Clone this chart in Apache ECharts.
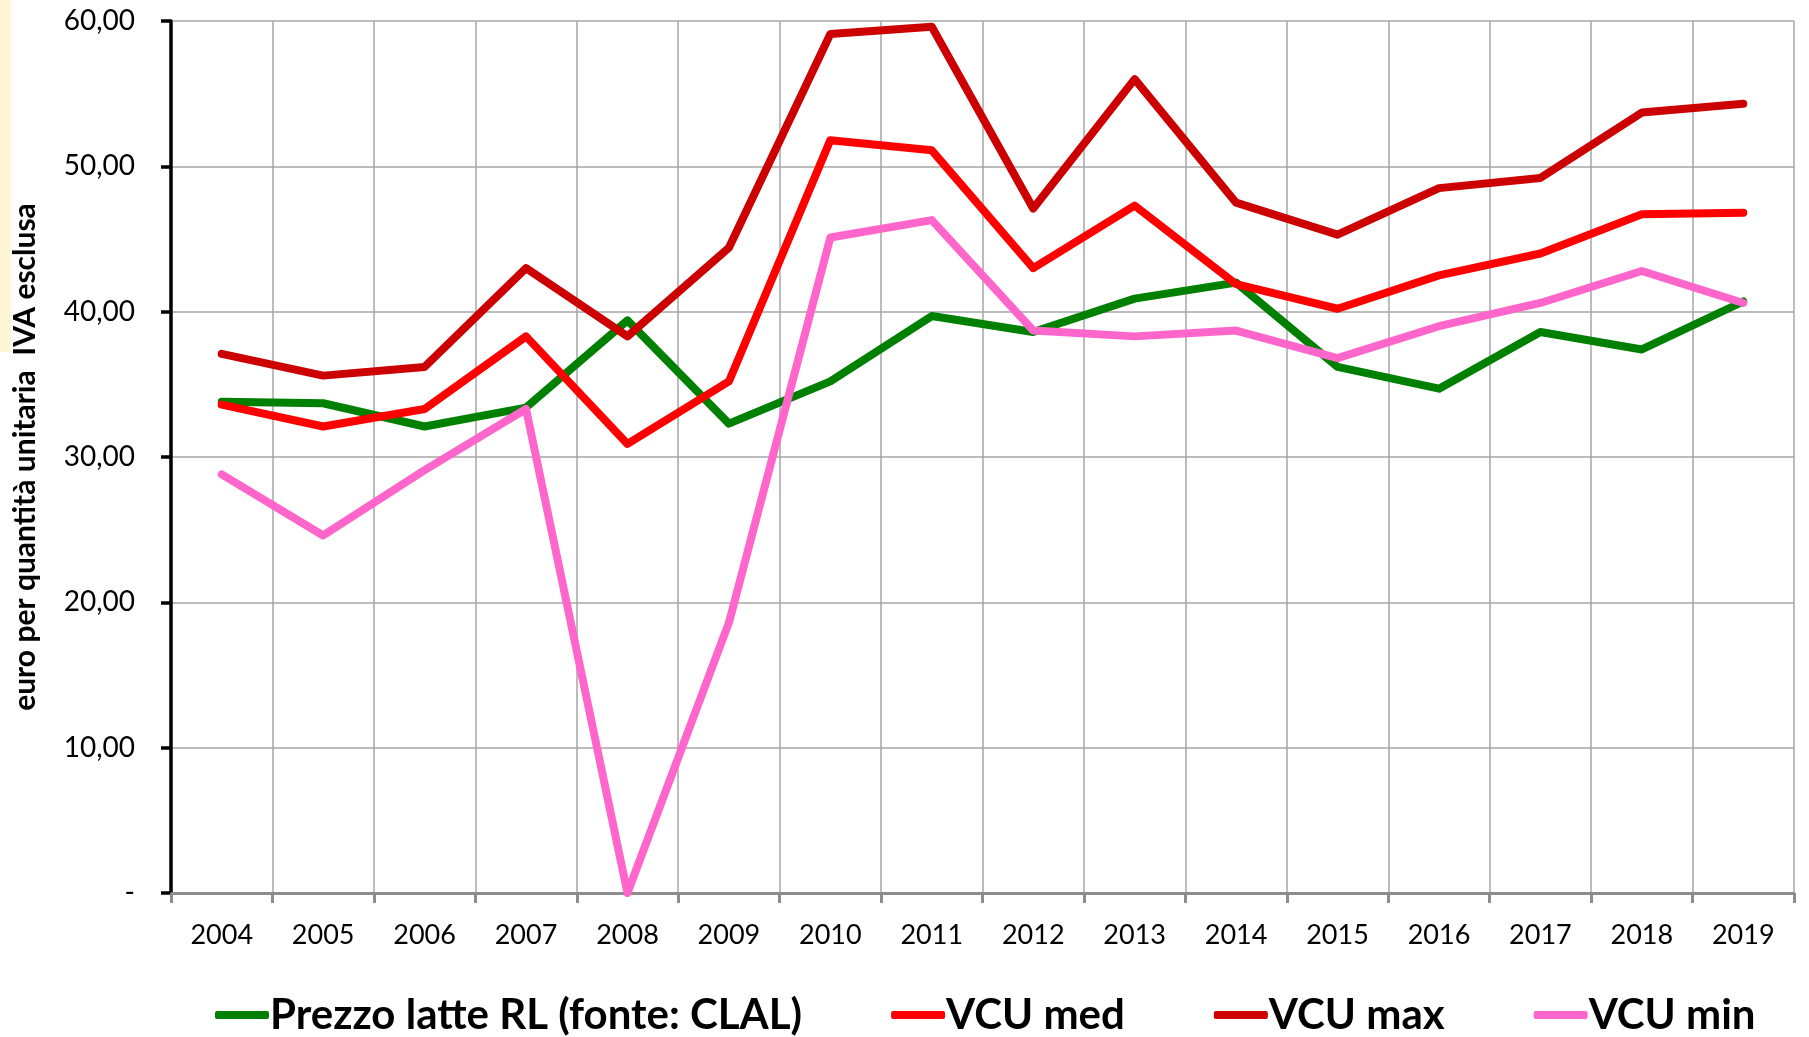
<!DOCTYPE html>
<html>
<head>
<meta charset="utf-8">
<script src="https://cdn.jsdelivr.net/npm/echarts@6/dist/echarts.min.js"></script>
<style>
  html, body { margin: 0; padding: 0; background: #fff; }
  #chart { width: 1809px; height: 1037px; }
</style>
</head>
<body>
<div id="chart"></div>
<script>
const years = ['2004', '2005', '2006', '2007', '2008', '2009', '2010', '2011',
  '2012', '2013', '2014', '2015', '2016', '2017', '2018', '2019'];

const prezzoLatte = [33.8, 33.7, 32.1, 33.4, 39.4, 32.3, 35.2, 39.7, 38.6, 40.9, 42.0, 36.2, 34.7, 38.6, 37.4, 40.7];
const vcuMed = [33.6, 32.1, 33.3, 38.3, 30.9, 35.2, 51.8, 51.1, 43.0, 47.3, 41.9, 40.2, 42.5, 44.0, 46.7, 46.8];
const vcuMax = [37.1, 35.6, 36.2, 43.0, 38.3, 44.4, 59.1, 59.6, 47.1, 56.0, 47.5, 45.3, 48.5, 49.2, 53.7, 54.3];
const vcuMin = [28.8, 24.6, 29.1, 33.3, 0, 18.6, 45.1, 46.3, 38.7, 38.3, 38.7, 36.8, 39.0, 40.6, 42.8, 40.6];

const yTicks = [0, 10, 20, 30, 40, 50, 60];

const FONT = 'Lato, "Open Sans", sans-serif';

function formatTick(value) {
  if (value === 0) return '-';
  return value.toFixed(2).replace('.', ',');
}

function lineSeries(name, data, color) {
  return {
    name,
    type: 'line',
    data,
    showSymbol: false,
    symbol: 'none',
    lineStyle: { width: 8, color, cap: 'round', join: 'round' },
    itemStyle: { color },
    emphasis: { disabled: true }
  };
}

const chart = echarts.init(document.getElementById('chart'), null, { renderer: 'canvas' });

chart.setOption({
  animation: false,
  backgroundColor: '#ffffff',
  graphic: [
    {
      type: 'rect',
      left: 0,
      top: 0,
      shape: { width: 11, height: 352 },
      style: { fill: '#fff7d4' },
      z: -10
    }
  ],
  legend: {
    left: 210,
    top: 989,
    itemWidth: 54,
    itemHeight: 8,
    itemGap: 89,
    icon: 'roundRect',
    textStyle: { fontFamily: FONT, fontSize: 42, fontWeight: 'bold', color: '#000', padding: [0, 0, 0, -4] },
    data: ['Prezzo latte RL (fonte: CLAL)', 'VCU med', 'VCU max', 'VCU min']
  },
  grid: {
    left: 171,
    right: 15,
    top: 21,
    bottom: 144,
    containLabel: false
  },
  xAxis: {
    type: 'category',
    data: years,
    boundaryGap: true,
    axisLine: { show: true, lineStyle: { color: '#8c8c8c', width: 3 } },
    axisTick: { show: true, alignWithLabel: false, length: 10, lineStyle: { color: '#8c8c8c', width: 3 } },
    axisLabel: { fontFamily: FONT, fontSize: 27, color: '#000', margin: 29 },
    splitLine: { show: true, lineStyle: { color: '#a6a6a6', width: 1.5 } }
  },
  yAxis: {
    type: 'value',
    min: 0,
    max: 60,
    interval: 10,
    name: 'euro per quantità unitaria  IVA esclusa',
    nameLocation: 'middle',
    nameGap: 131,
    nameRotate: 90,
    nameTextStyle: { fontFamily: FONT, fontSize: 30, fontWeight: 'bold', color: '#000' },
    axisLine: { show: true, lineStyle: { color: '#000', width: 3.5 } },
    axisTick: { show: true, length: 10, lineStyle: { color: '#000', width: 3.5 } },
    axisLabel: {
      fontFamily: FONT,
      fontSize: 28,
      color: '#000',
      margin: 36,
      formatter: (v) => yTicks.includes(v) ? formatTick(v) : ''
    },
    splitLine: { show: true, lineStyle: { color: '#a6a6a6', width: 1.5 } }
  },
  series: [
    lineSeries('Prezzo latte RL (fonte: CLAL)', prezzoLatte, '#008000'),
    lineSeries('VCU med', vcuMed, '#ff0000'),
    lineSeries('VCU max', vcuMax, '#cc0000'),
    lineSeries('VCU min', vcuMin, '#ff66cc')
  ]
});
</script>
</body>
</html>
